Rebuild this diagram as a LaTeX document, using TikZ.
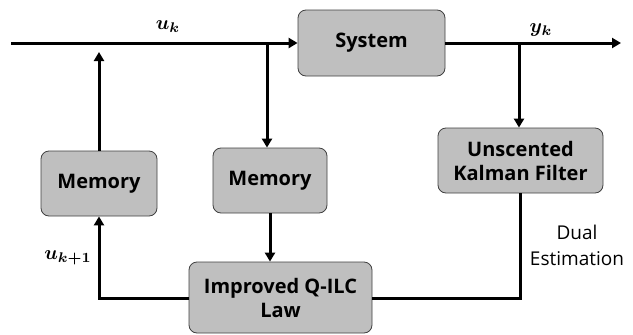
\documentclass[tikz,border=0pt]{standalone}
\usepackage{amsmath,bm,graphicx}
\usepackage{fontspec}
\setmainfont{Open Sans}
\usetikzlibrary{arrows.meta}
\definecolor{boxfill}{HTML}{BFBFBF}
\definecolor{boxline}{HTML}{404040}
\begin{document}
\begin{tikzpicture}[x=1pt,y=-1pt,
  blk/.style={draw=boxline,line width=0.8pt,fill=boxfill,rounded corners=8pt,font=\fontsize{20}{24}\selectfont\bfseries,align=center,inner sep=0pt},
  wire/.style={line width=3pt},
  arr/.style={wire,-{Triangle[length=9pt,width=10pt]}},
  lbl/.style={align=center},
  txt/.style={font=\fontsize{19}{26}\selectfont,align=center}]
\useasboundingbox (0,0) rectangle (633,335);
\node[blk,minimum width=147pt,minimum height=66pt] (sys) at (371.5,43) {System};
\node[blk,minimum width=165pt,minimum height=65pt] (ukf) at (520.5,160.5) {Unscented\\Kalman Filter};
\node[blk,minimum width=116pt,minimum height=65pt] (mem1) at (99,183.5) {Memory};
\node[blk,minimum width=114pt,minimum height=65pt] (mem2) at (270,180.5) {Memory};
\node[blk,minimum width=183pt,minimum height=71pt] (law) at (280.5,297.5) {Improved Q-ILC\\Law};
\coordinate (start) at (11,43);
\coordinate (bu) at (99,52);
\coordinate (bm) at (267,43);
\coordinate (by) at (519,43);
\coordinate (yend) at (621,43);
\coordinate (bl) at (99,298);
\coordinate (br) at (520,298);
\draw[arr] (start) -- (sys.west);
\draw[arr] (sys.east) -- (yend);
\draw[arr] (by) -- (ukf.north -| by);
\draw[arr] (bm) -- (mem2.north -| bm);
\draw[arr] (mem1.north) -- (bu);
\draw[arr] (mem2.south) -- (law.north -| mem2.south);
\draw[arr] (law.west |- bl) -- (bl) -- (mem1.south);
\draw[wire] (law.east |- br) -- (br) -- (ukf.south -| br);
\node[lbl] (uk) at (168,27) {\scalebox{2}{$\bm{u_k}$}};
\node[lbl] (yk) at (541,30) {\scalebox{2}{$\bm{y_k}$}};
\node[lbl] (uk1) at (68,258) {\scalebox{2}{$\bm{u_{k+1}}$}};
\node[txt] (dual) at (577,245) {Dual\\Estimation};
\end{tikzpicture}
\end{document}
